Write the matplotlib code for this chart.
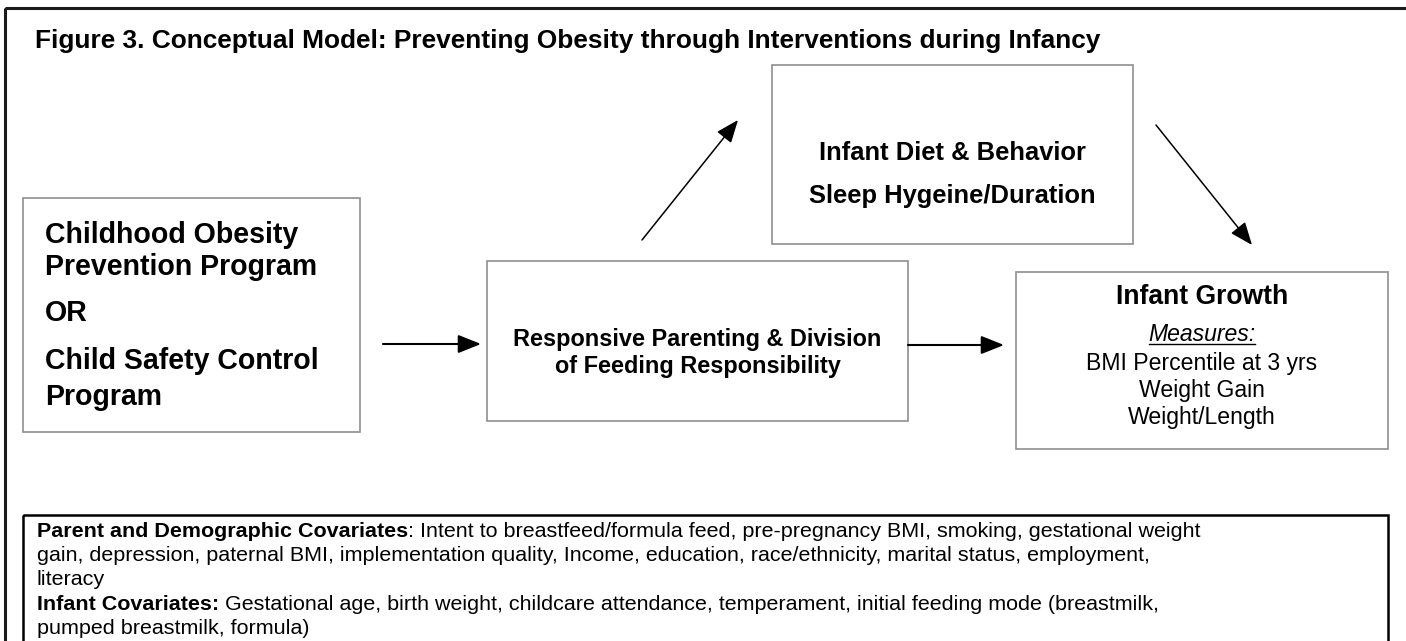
import matplotlib
matplotlib.use("Agg")
import matplotlib.pyplot as plt
from matplotlib.patches import Rectangle

plt.rcParams['font.family'] = ['Liberation Sans', 'DejaVu Sans']

W, H = 1406, 641
title = "Figure 3. Conceptual Model: Preventing Obesity through Interventions during Infancy"
left_lines = ["Childhood Obesity", "Prevention Program", "OR", "Child Safety Control", "Program"]
middle_lines = ["Responsive Parenting & Division", "of Feeding Responsibility"]
top_lines = ["Infant Diet & Behavior", "Sleep Hygeine/Duration"]
growth_title = "Infant Growth"
measures_label = "Measures:"
measures = ["BMI Percentile at 3 yrs", "Weight Gain", "Weight/Length"]
cov_lines = [
    ("Parent and Demographic Covariates", ": Intent to breastfeed/formula feed, pre-pregnancy BMI, smoking, gestational weight"),
    ("", "gain, depression, paternal BMI, implementation quality, Income, education, race/ethnicity, marital status, employment,"),
    ("", "literacy"),
    ("Infant Covariates:", " Gestational age, birth weight, childcare attendance, temperament, initial feeding mode (breastmilk,"),
    ("", "pumped breastmilk, formula)"),
]

fig = plt.figure(figsize=(W / 100, H / 100), dpi=100)
ax = fig.add_axes([0, 0, 1, 1])
ax.set_xlim(0, W)
ax.set_ylim(H, 0)
ax.axis('off')


def px(p):
    return p * 0.72


# outer frame
ax.add_patch(Rectangle((5, 8), W + 20, H + 20, fill=False, ec='#1a1a1a', lw=2.2))

# title
ax.text(35, 48, title, fontsize=px(26.2), fontweight='bold', ha='left', va='baseline')

box_kw = dict(fill=True, fc='white', ec='#8f8f8f', lw=1.2)
left_box = (23, 198, 360, 432)
mid_box = (487, 261, 908, 421)
top_box = (772, 65, 1133, 244)
right_box = (1016, 272, 1388, 449)
for b in (left_box, mid_box, top_box, right_box):
    ax.add_patch(Rectangle((b[0], b[1]), b[2] - b[0], b[3] - b[1], **box_kw))

# left box text
for s, y in zip(left_lines, [243, 275, 321, 369, 405]):
    ax.text(45, y, s, fontsize=px(28.5), fontweight='bold', ha='left', va='baseline')

# middle box text
cx = (mid_box[0] + mid_box[2]) / 2
for s, y in zip(middle_lines, [346, 373]):
    ax.text(cx, y, s, fontsize=px(23.5), fontweight='bold', ha='center', va='baseline')

# top box text
cx = (top_box[0] + top_box[2]) / 2
for s, y in zip(top_lines, [160, 203]):
    ax.text(cx, y, s, fontsize=px(25.5), fontweight='bold', ha='center', va='baseline')

# right box text
cx = (right_box[0] + right_box[2]) / 2
ax.text(cx, 304, growth_title, fontsize=px(26.5), fontweight='bold', ha='center', va='baseline')
t = ax.text(cx, 341, measures_label, fontsize=px(23), fontstyle='italic', ha='center', va='baseline')
for s, y in zip(measures, [370, 397, 424]):
    ax.text(cx, y, s, fontsize=px(23), ha='center', va='baseline')


def arrow(p0, p1, lw=1.3):
    ax.annotate('', xy=p1, xytext=p0,
                arrowprops=dict(arrowstyle='-|>,head_length=0.7,head_width=0.28', color='black', lw=lw,
                                shrinkA=0, shrinkB=0, mutation_scale=20))


arrow((383, 344), (481, 344), lw=1.5)
arrow((908, 345), (1004, 345), lw=1.5)
arrow((642, 240), (738, 120), lw=1.1)
arrow((1156, 125), (1252, 245), lw=1.1)

# covariates box
cov_top = 515
ax.add_patch(Rectangle((23, cov_top), 1388 - 23, H + 20 - cov_top, fill=False, ec='black', lw=1.8))

fig.canvas.draw()
renderer = fig.canvas.get_renderer()
inv = ax.transData.inverted()
fs_cov = px(21.5)
y = cov_top + 22
for bold, rest in cov_lines:
    x0 = 37
    if bold:
        tb = ax.text(x0, y, bold, fontsize=fs_cov, fontweight='bold', ha='left', va='baseline')
        bb = tb.get_window_extent(renderer=renderer)
        x0 = inv.transform((bb.x1, bb.y0))[0]
    ax.text(x0, y, rest, fontsize=fs_cov, ha='left', va='baseline')
    y += 24.2

# underline for Measures:
bb = t.get_window_extent(renderer=renderer)
ux0 = inv.transform((bb.x0, bb.y0))[0]
ux1 = inv.transform((bb.x1, bb.y0))[0]
ax.plot([ux0 + 1, ux1 - 1], [343.5, 343.5], color='black', lw=1.0)

fig.savefig('out.png', dpi=100, facecolor='white')
